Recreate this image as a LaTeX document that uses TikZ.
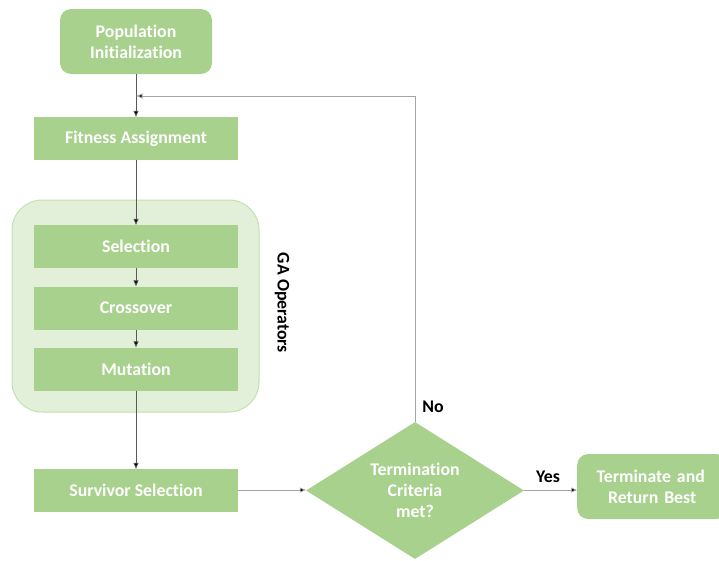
\documentclass[tikz,border=0pt]{standalone}
\usepackage{fontspec}
\setmainfont[Ligatures=NoCommon]{Carlito}
\usetikzlibrary{shapes.geometric,arrows.meta}
\definecolor{boxgreen}{HTML}{A9D18E}
\definecolor{grpfill}{HTML}{E2EFD9}
\definecolor{grpline}{HTML}{C5E0B4}
\definecolor{lineclr}{HTML}{595959}
\definecolor{loopclr}{HTML}{A6A6A6}
\tikzset{
  every node/.style={font=\fontsize{17.8}{21}\selectfont\bfseries},
  gbox/.style={fill=boxgreen, draw=none, text=white, minimum width=204pt, minimum height=43pt, inner sep=0pt, align=center},
  rbox/.style={fill=boxgreen, draw=none, text=white, rounded corners=11pt, inner sep=0pt, align=center},
  conn/.style={draw=lineclr, line width=0.8pt, -{Triangle[length=6pt,width=5pt,fill=black]}},
  loopconn/.style={draw=loopclr, line width=0.9pt, -{Triangle[length=6pt,width=5pt,fill=black]}},
  lbl/.style={text=black, inner sep=0pt}
}
\begin{document}
\begin{tikzpicture}[x=1pt,y=-1pt]
\useasboundingbox (0,0) rectangle (719,560);
% group container
\node[fill=grpfill, draw=grpline, line width=1pt, rounded corners=30pt, minimum width=247pt, minimum height=212pt, inner sep=0pt] (grp) at (135.5,306) {};
\node[rbox, minimum width=152pt, minimum height=65pt] (pop) at (136,41.5) {Population\\Initialization};
\node[gbox] (fit) at (136,138.5) {Fitness Assignment};
\node[gbox] (sel) at (136,246.5) {Selection};
\node[gbox] (cro) at (136,308) {Crossover};
\node[gbox] (mut) at (136,369) {Mutation};
\node[gbox] (sur) at (136,490.5) {Survivor Selection};
\node[diamond, aspect=1.59, fill=boxgreen, text=white, minimum width=218pt, minimum height=137pt, inner sep=0pt, align=center] (dec) at (415,490.5) {Termination\\Criteria\\met?};
\node[rbox, minimum width=150pt, minimum height=65pt, anchor=west, text width=150pt, align=center] (ter) at (577,486.5) {\hspace*{-3pt}Terminate and\\Return Best};
\node[lbl, rotate=-90] (gal) at (282,303) {GA Operators};
\node[lbl] (no) at (433,407) {No};
\node[lbl] (yes) at (548,477) {Yes};
\coordinate (corner) at (415,96);
\coordinate (join) at (136.5,96);
\draw[conn] (pop.south) -- (fit.north);
\draw[loopconn] (dec.north) -- (corner) -- (join);
\draw[conn] (fit.south) -- (sel.north);
\draw[conn] (sel.south) -- (cro.north);
\draw[conn] (cro.south) -- (mut.north);
\draw[conn] (mut.south) -- (sur.north);
\draw[conn, draw=loopclr] (sur.east |- 0,490) -- (dec.west |- 0,490);
\draw[conn, draw=loopclr] (dec.east |- 0,490) -- (ter.west |- 0,490);
\end{tikzpicture}
\end{document}
